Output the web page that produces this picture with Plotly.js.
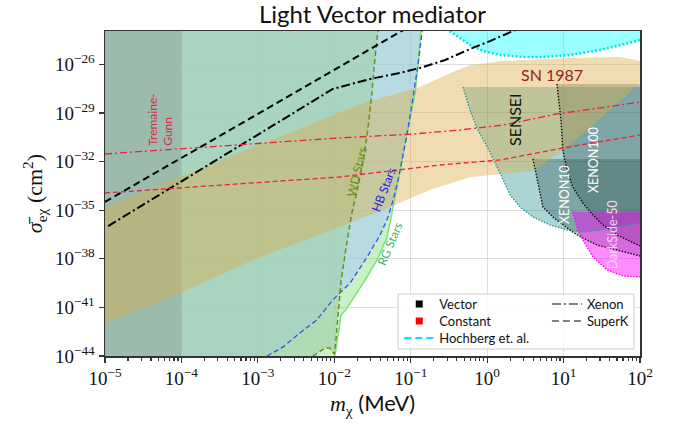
<!DOCTYPE html>
<html><head><meta charset="utf-8">
<script src="https://cdn.plot.ly/plotly-3.0.1.min.js"></script>
<style>html,body{margin:0;padding:0;background:#fff}</style>
</head><body><div id="chart" style="width:677px;height:424px"></div>
<script>
// ---- data (mass in MeV, cross section in cm^2) ----
const tgMass = [1e-5, 1e-4];

const rgMass  = [1.02e-2, 1.10e-2, 1.23e-2, 1.41e-2, 2.45e-2, 3.63e-2, 4.9e-2, 5.69e-2, 6.61e-2, 8.13e-2, 9.77e-2, 0.115, 0.1245, 0.136];
const rgSigma = [1e-44, 9.77e-44, 3.39e-42, 6.92e-42, 3.72e-40, 8.51e-39, 2.24e-37, 6.76e-36, 2.69e-34, 5.25e-32, 2.75e-30, 2.0e-28, 9.12e-27, 1.15e-24];

const hbMass  = [1.32e-3, 2.14e-3, 3.55e-3, 5.89e-3, 9.55e-3, 1.62e-2, 2.69e-2, 3.98e-2, 5.01e-2, 5.89e-2, 6.76e-2, 8.91e-2, 0.107, 0.126, 0.141];
const hbSigma = [1e-44, 3.63e-44, 2.63e-43, 1.66e-42, 2.88e-41, 3.24e-40, 1.29e-38, 2.95e-37, 3.31e-36, 4.27e-35, 5.5e-34, 4.37e-31, 8.51e-29, 1.41e-26, 1.15e-24];

const wdMass  = [5.25e-3, 7.59e-3, 8.71e-3, 1.0e-2, 1.05e-2, 1.12e-2, 1.23e-2, 1.48e-2, 1.70e-2, 2.0e-2, 2.40e-2, 2.69e-2, 3.09e-2, 3.39e-2, 3.72e-2];
const wdSigma = [1e-44, 3.09e-44, 3.09e-44, 1.32e-44, 9.77e-44, 4.47e-42, 4.9e-40, 1.45e-37, 6.76e-36, 1.78e-34, 1.26e-32, 4.37e-31, 1.29e-28, 1.86e-26, 1.15e-24];

const snUpperMass  = [1e-5, 1.02e-4, 1e-3, 3.55e-3, 1.02e-2, 2.69e-2, 7.24e-2, 0.132, 0.355, 0.603, 1.62, 12.0, 55, 100];
const snUpperSigma = [1.38e-35, 1.29e-33, 1.05e-31, 1.02e-30, 8.71e-30, 4.79e-29, 1.70e-28, 3.98e-28, 3.39e-27, 9.12e-27, 1.62e-26, 2.51e-26, 2.88e-26, 1.62e-26];
const snLowerMass  = [1e-5, 1.02e-4, 1e-3, 1.17e-2, 5.37e-2, 0.178, 0.603, 1.62, 3.98, 9.77, 20.4, 100];
const snLowerSigma = [1.10e-42, 8.91e-41, 1.12e-38, 9.12e-37, 1.58e-35, 1.78e-34, 1.12e-33, 1.70e-33, 2.63e-33, 5.25e-32, 8.91e-31, 7.08e-28];

const hochMass  = [0.324, 0.442, 0.596, 0.881, 1.48, 2.95, 5.71, 12.2, 30.2, 63.1, 100];
const hochSigma = [1.15e-24, 4.27e-25, 1.58e-25, 6.76e-26, 3.80e-26, 2.88e-26, 2.88e-26, 3.80e-26, 7.76e-26, 1.82e-25, 3.24e-25];

const senseiMass  = [0.483, 0.596, 0.736, 1.09, 1.47, 2.0, 2.69, 3.98, 6.61, 11.1, 17.9, 29.9, 50.1, 100];
const senseiSigma = [3.98e-28, 1.55e-29, 1.17e-30, 3.89e-32, 2.0e-33, 8.71e-35, 1.58e-35, 3.80e-36, 1.23e-36, 6.03e-37, 4.47e-37, 6.03e-37, 9.12e-37, 1.62e-36];

const xe10Mass  = [3.98, 4.62, 5.37, 7.24, 9.77, 13.2, 17.9, 27.4, 50.1, 100];
const xe10Sigma = [1.45e-32, 4.79e-34, 1.58e-35, 3.80e-36, 1.23e-36, 4.47e-37, 1.91e-37, 7.08e-38, 3.47e-38, 1.48e-38];

const xe100Mass  = [8.2, 9.25, 9.77, 11.1, 13.2, 17.9, 24.3, 32.8, 50.1, 100];
const xe100Sigma = [6.17e-28, 3.72e-30, 5.25e-32, 3.02e-33, 2.69e-34, 2.75e-35, 5.01e-36, 1.23e-36, 2.95e-37, 6.17e-38];

const dsMass  = [13.2, 15.5, 17.9, 24.3, 37.0, 59.8, 100];
const dsSigma = [7.76e-36, 6.03e-37, 1.45e-37, 1.29e-38, 2.04e-39, 8.71e-40, 7.59e-40];

const vecSuperKMass  = [1e-5, 1e-3, 7.24e-2, 9.12e-2];
const vecSuperKSigma = [3.24e-35, 8.71e-30, 1e-24, 1.86e-24];
const vecXenonMass  = [1.1e-5, 1e-3, 9.55e-3, 2.95e-2, 7.24e-2, 0.132, 0.282, 0.596, 1.09, 2.19, 2.75];
const vecXenonSigma = [1.05e-36, 4.37e-31, 3.02e-28, 1.26e-27, 2.95e-27, 6.03e-27, 1.86e-26, 8.91e-26, 2.75e-25, 1.15e-24, 1.86e-24];
const constXenonMass  = [1e-5, 1e-3, 1.17e-2, 0.107, 0.442, 1.62, 8.13, 30.2, 100];
const constXenonSigma = [2.95e-32, 1.23e-31, 2.88e-31, 5.01e-31, 8.91e-31, 1.82e-30, 8.71e-30, 2.04e-29, 4.79e-29];
const constSuperKMass  = [1e-5, 1e-3, 1.17e-2, 0.240, 1.48, 9.77, 100];
const constSuperKSigma = [1.15e-34, 4.79e-34, 1.12e-33, 6.17e-33, 1.26e-32, 6.92e-32, 4.37e-31];

const legendTypes = ['Vector', 'Constant', 'Hochberg et. al.'];
const legendExps = ['Xenon', 'SuperK'];

const xTickVals = [1e-5, 1e-4, 1e-3, 1e-2, 1e-1, 1e0, 1e1, 1e2];
const xTickText = ['10<sup>−5</sup>', '10<sup>−4</sup>', '10<sup>−3</sup>', '10<sup>−2</sup>',
                   '10<sup>−1</sup>', '10<sup>0</sup>', '10<sup>1</sup>', '10<sup>2</sup>'];
const yTickVals = [1e-44, 1e-41, 1e-38, 1e-35, 1e-32, 1e-29, 1e-26];
const yTickText = ['10<sup>−44</sup>', '10<sup>−41</sup>', '10<sup>−38</sup>', '10<sup>−35</sup>',
                   '10<sup>−32</sup>', '10<sup>−29</sup>', '10<sup>−26</sup>'];

// ---- frame limits used only to close regions outside the visible axes ----
const SIG_TOP = 1e-22, SIG_BOT = 1e-46, M_LEFT = 1e-6, M_RIGHT = 1e3;
const last = a => a[a.length - 1];

function region(xs, ys, color) {
  return {x: xs, y: ys, mode: 'lines', fill: 'toself', fillcolor: color,
          line: {width: 0}, hoverinfo: 'skip', showlegend: false};
}
function curve(xs, ys, color, width, dash) {
  return {x: xs, y: ys, mode: 'lines', line: {color: color, width: width, dash: dash},
          hoverinfo: 'skip', showlegend: false};
}
function leftRegion(m, s, color) {
  return region([m[0], ...m, last(m), M_LEFT, M_LEFT],
                [SIG_BOT, ...s, SIG_TOP, SIG_TOP, SIG_BOT], color);
}
function upperRegion(m, s, color) {
  return region([...m, last(m)], [...s, s[0]], color);
}

const traces = [
  leftRegion(rgMass, rgSigma, 'rgba(120,220,110,0.4)'),
  leftRegion(hbMass, hbSigma, 'rgba(165,197,253,0.5)'),
  leftRegion(wdMass, wdSigma, 'rgba(158,207,170,0.6)'),
  region([tgMass[0], tgMass[1], tgMass[1], tgMass[0]], [SIG_BOT, SIG_BOT, SIG_TOP, SIG_TOP], 'rgba(128,128,128,0.3)'),
  upperRegion(senseiMass, senseiSigma, 'rgba(0,128,128,0.33)'),
  upperRegion(xe10Mass, xe10Sigma, 'rgba(47,79,79,0.35)'),
  upperRegion(xe100Mass, xe100Sigma, 'rgba(47,79,79,0.35)'),
  upperRegion(dsMass, dsSigma, 'rgba(255,0,255,0.45)'),
  region([hochMass[0], ...hochMass, M_RIGHT, M_RIGHT, hochMass[0]],
         [SIG_TOP, ...hochSigma, last(hochSigma), SIG_TOP, SIG_TOP], 'rgba(0,255,255,0.4)'),
  region([...snUpperMass, ...snLowerMass.slice().reverse()],
         [...snUpperSigma, ...snLowerSigma.slice().reverse()], 'rgba(220,173,74,0.43)'),

  curve(rgMass, rgSigma, '#7ce37c', 1.5, 'solid'),
  curve(hbMass, hbSigma, '#3355e6', 1.3, '5px,3px'),
  curve(wdMass, wdSigma, '#6b8e23', 1.5, '5px,3px'),
  curve(senseiMass, senseiSigma, '#2a9a9a', 1.4, '1.5px,1.5px'),
  curve(xe10Mass, xe10Sigma, '#111', 1.4, '1.5px,1.5px'),
  curve(xe100Mass, xe100Sigma, '#111', 1.4, '1.5px,1.5px'),
  curve(dsMass, dsSigma, '#ff00ff', 1.4, '1.5px,1.5px'),
  curve(hochMass, hochSigma, '#00e5e5', 2.5, '2px,2px'),
  curve(vecSuperKMass, vecSuperKSigma, '#000', 2, '7px,4px'),
  curve(vecXenonMass, vecXenonSigma, '#000', 2, '9px,3px,2px,3px'),
  curve(constXenonMass, constXenonSigma, '#e8203c', 1.3, '7px,3px,2px,3px'),
  curve(constSuperKMass, constSuperKSigma, '#e8203c', 1.3, '5px,3px'),

  // legend entries (one small legend per row so rows sit as close as in the reference)
  {x: [null], y: [null], mode: 'markers', name: legendTypes[0], legend: 'legend',
   marker: {symbol: 'square', size: 7, color: '#000'}},
  {x: [null], y: [null], mode: 'markers', name: legendTypes[1], legend: 'legend3',
   marker: {symbol: 'square', size: 7, color: '#ff0000'}},
  {x: [null], y: [null], mode: 'lines', name: legendTypes[2], legend: 'legend4',
   line: {color: '#00e5ff', width: 2, dash: '7px,4px'}},
  {x: [null], y: [null], mode: 'lines', name: legendExps[0], legend: 'legend2',
   line: {color: '#808080', width: 2, dash: '9px,3px,2px,3px'}},
  {x: [null], y: [null], mode: 'lines', name: legendExps[1], legend: 'legend5',
   line: {color: '#808080', width: 2, dash: '7px,4px'}}
];

const serif = 'Liberation Serif, DejaVu Serif, serif';
const sans = 'Lato, Open Sans, sans-serif';

function label(text, lx, ly, color, size, angle) {
  return {text: text, x: lx, y: ly, xref: 'x', yref: 'y', showarrow: false,
          textangle: angle, font: {family: sans, size: size, color: color}, align: 'left'};
}
function legendAt(px, py) {
  return {x: px, y: py, xanchor: 'left', yanchor: 'middle', bgcolor: 'rgba(0,0,0,0)',
          font: {family: sans, size: 13, color: '#111'}, itemwidth: 30, tracegroupgap: 0};
}

const layout = {
  width: 677, height: 424,
  margin: {l: 105, r: 37, t: 31, b: 68},
  paper_bgcolor: '#fff', plot_bgcolor: '#fff',
  title: {text: 'Light Vector mediator', font: {family: sans, size: 24, color: '#111'},
          x: 0.5, xref: 'paper', xanchor: 'center', y: 0.965, yref: 'container', yanchor: 'middle'},
  xaxis: {
    type: 'log', range: [-5, 2], tickmode: 'array', tickvals: xTickVals, ticktext: xTickText,
    showgrid: true, gridcolor: '#dcdcdc', gridwidth: 1, zeroline: false,
    showline: true, mirror: true, linecolor: '#333', linewidth: 1.5,
    ticks: 'outside', ticklen: 5, tickcolor: '#333', tickwidth: 1.2,
    minor: {ticks: 'outside', ticklen: 3, tickcolor: '#333', dtick: 'D1', showgrid: false},
    tickfont: {family: serif, size: 19, color: '#111'},
    title: {text: '<span style="font-family:Liberation Serif"><i>m</i><sub>χ</sub></span> (MeV)',
            font: {family: sans, size: 22, color: '#111'}, standoff: 2}
  },
  yaxis: {
    type: 'log', range: [-44, -23.94], tickmode: 'array', tickvals: yTickVals, ticktext: yTickText,
    showgrid: true, gridcolor: '#dcdcdc', gridwidth: 1, zeroline: false,
    showline: true, mirror: true, linecolor: '#333', linewidth: 1.5,
    ticks: 'outside', ticklen: 5, tickcolor: '#333', tickwidth: 1.2,
    tickfont: {family: serif, size: 19, color: '#111'},
    title: {text: '<i>σ̄</i><sub>eχ</sub> (cm<sup>2</sup>)',
            font: {family: serif, size: 22, color: '#111'}, standoff: 6}
  },
  legend: legendAt(0.55, 0.16),
  legend3: legendAt(0.55, 0.1077),
  legend4: legendAt(0.55, 0.0554),
  legend2: legendAt(0.826, 0.16),
  legend5: legendAt(0.826, 0.1077),
  shapes: [{type: 'rect', xref: 'paper', yref: 'paper', x0: 0.5477, x1: 0.9888, y0: 0.0215, y1: 0.1908,
            fillcolor: 'rgba(255,255,255,0.85)', line: {color: '#cccccc', width: 1}, layer: 'above'}],
  annotations: [
    label('Tremaine-<br>Gunn', -4.27, -29.43, '#cc3344', 12, -90),
    label('SN 1987', 0.85, -26.65, '#9b1c1c', 16, 0),
    label('SENSEI', 0.365, -29.43, '#111', 16, -90),
    label('XENON10', 1.02, -34.06, '#ffffff', 12.5, -90),
    label('XENON100', 1.40, -31.9, '#ffffff', 12.5, -90),
    label('DarkSide-50', 1.65, -36.53, '#fbd6f4', 12.5, -90),
    label('WD Stars', -1.70, -32.64, '#6b8e23', 12, -77),
    label('HB Stars', -1.35, -33.75, '#2222dd', 12, -69),
    label('RG Stars', -1.28, -37.09, '#3cb371', 12, -67)
  ],
  showlegend: true
};

Plotly.newPlot('chart', traces, layout, {displayModeBar: false, staticPlot: true});
</script></body></html>
